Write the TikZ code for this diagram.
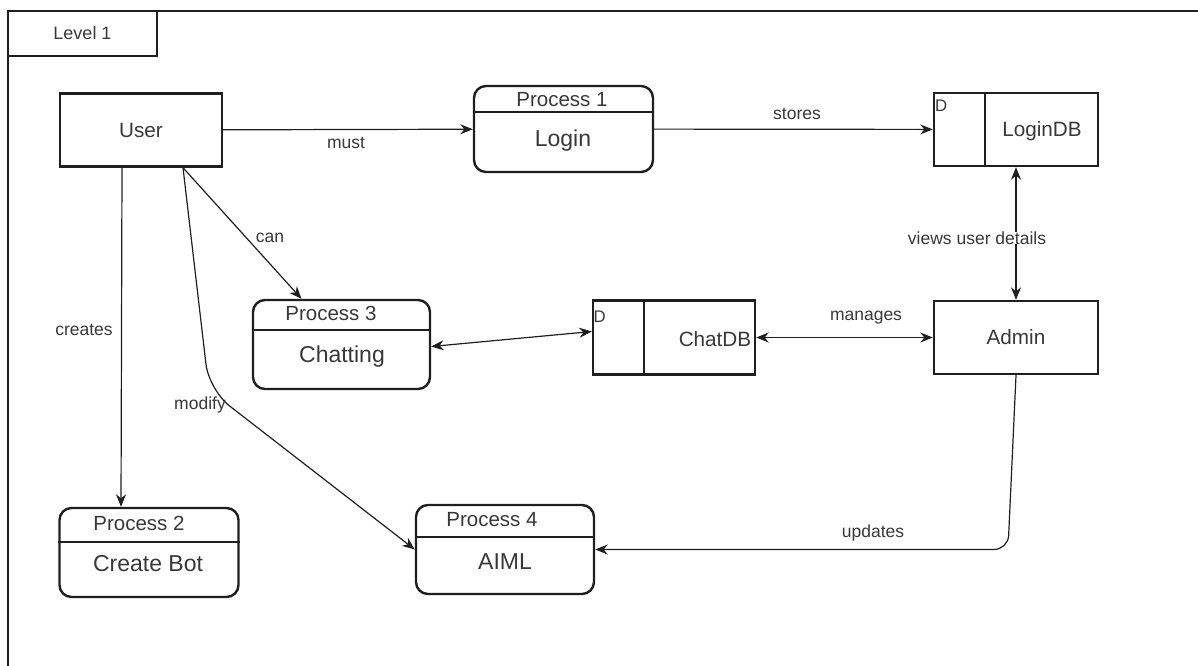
\documentclass[tikz,border=0pt]{standalone}
\usepackage{fontspec}
\setmainfont{Liberation Sans}
\usetikzlibrary{arrows.meta, positioning, calc}
\def\InkColor{black!88}
\def\WordColor{black!78}

\begin{document}
\begin{tikzpicture}[x=1pt, y=-1pt,
   frame/.style = {draw=\InkColor, line width=2.4pt},
     ent/.style = {draw=\InkColor, line width=2.4pt, inner sep=0pt, text=\WordColor,
                   font=\fontsize{20.7}{24}\selectfont},
    proc/.style = {draw=\InkColor, line width=2.4pt, rounded corners=12pt, inner sep=0pt},
     div/.style = {draw=\InkColor, line width=1.5pt},
   title/.style = {text=\WordColor, inner sep=0pt, font=\fontsize{20.5}{24}\selectfont},
    body/.style = {text=\WordColor, inner sep=0pt, font=\fontsize{23}{26}\selectfont},
   dmark/.style = {text=\WordColor, inner sep=0pt, font=\fontsize{16.8}{20}\selectfont},
     lbl/.style = {text=\WordColor, inner sep=1pt, font=\fontsize{17.5}{20}\selectfont},
    conn/.style = {draw=\InkColor, line width=1.2pt, -{Stealth[length=12.5pt, width=10pt]}},
    both/.style = {{Stealth[length=12.5pt, width=10pt]}-{Stealth[length=12.5pt, width=10pt]}},
    every edge/.style = {conn}
                        ]
\useasboundingbox (0,0) rectangle (1198,665);
\clip (0,0) rectangle (1198,665);
\draw[frame] (8,11) rectangle (1215,690);
\node[ent, minimum width=149pt, minimum height=45pt, font=\fontsize{18}{20}\selectfont]
     (level) at (82.5,33.5) {Level 1};

% entities
\node[ent, minimum width=162pt, minimum height=73pt] (user)  at (141,130)    {User};
\node[ent, minimum width=164pt, minimum height=73pt] (admin) at (1016,337.5) {Admin};

% data stores
\node[ent, minimum width=164pt, minimum height=73pt] (logindb) at (1016,129.5) {};
\draw[div, line width=2.4pt] ($(logindb.north west)+(52,0)$) -- ($(logindb.south west)+(52,0)$);
\node[dmark] (logind) at ($(logindb.north west)+(8.5,13.5)$) {D};
\node[ent, draw=none] (logint) at (1042,131) {LoginDB};

\node[ent, minimum width=162pt, minimum height=74pt] (chatdb) at (674,337.5) {};
\draw[div, line width=2.4pt] ($(chatdb.north west)+(52,0)$) -- ($(chatdb.south west)+(52,0)$);
\node[dmark] (chatd) at ($(chatdb.north west)+(8,17.5)$) {D};
\node[ent, draw=none] (chatt) at (715,339) {ChatDB};

% processes
\node[proc, minimum width=179pt, minimum height=86pt] (p1) at (563.5,129) {};
\draw[div] ($(p1.north west)+(0,27)$) -- ($(p1.north east)+(0,27)$);
\node[title] (p1t) at (562,100) {Process 1};
\node[body]  (p1b) at (563,141) {Login};

\node[proc, minimum width=177pt, minimum height=89pt] (p3) at (341.5,344.5) {};
\draw[div] ($(p3.north west)+(0,31)$) -- ($(p3.north east)+(0,31)$);
\node[title] (p3t) at (331,313) {Process 3};
\node[body]  (p3b) at (342,357) {Chatting};

\node[proc, minimum width=179pt, minimum height=89pt] (p2) at (149,552.5) {};
\draw[div] ($(p2.north west)+(0,35)$) -- ($(p2.north east)+(0,35)$);
\node[title] (p2t) at (139,523) {Process 2};
\node[body]  (p2b) at (148,564) {Create Bot};

\node[proc, minimum width=178pt, minimum height=89pt] (p4) at (505,549.5) {};
\draw[div] ($(p4.north west)+(0,33)$) -- ($(p4.north east)+(0,33)$);
\node[title] (p4t) at (492,520) {Process 4};
\node[body]  (p4b) at (505,562) {AIML};

% flows
\coordinate (mbend) at (209,390);
\coordinate (ubend) at (1008,549.5);

\draw   (user)    edge (p1)
        (p1)      edge (logindb)
        (logindb) edge[both] (admin)
        (chatdb)  edge[both] (admin)
        ($(p3.east)+(0,2)$) edge[both] ($(chatdb.west)+(0,-6)$)
        ($(user.south)+(42,0)$) edge ($(p3.north)+(-40,0)$)
        ($(user.south)+(-19,0)$) edge ($(p2.north)+(-28,0)$);
\draw[conn, rounded corners=26pt] ($(user.south)+(42,0)$) -- (mbend) -- (p4.west);
\draw[conn, rounded corners=14pt] (admin.south) -- (ubend) -- (p4.east);

% flow labels
\node[lbl] (lmust)    at (346,143) {must};
\node[lbl] (lstores)  at (797,114) {stores};
\node[lbl, fill=white, inner sep=0pt] (lviews) at (977,238) {views user details};
\node[lbl] (lcan)     at (270,238) {can};
\node[lbl] (lmanages) at (866,318) {manages};
\node[lbl] (lcreates) at (84,330)  {creates};
\node[lbl] (lmodify)  at (200,405) {modify};
\node[lbl] (lupdates) at (873,533) {updates};
\end{tikzpicture}
\end{document}
